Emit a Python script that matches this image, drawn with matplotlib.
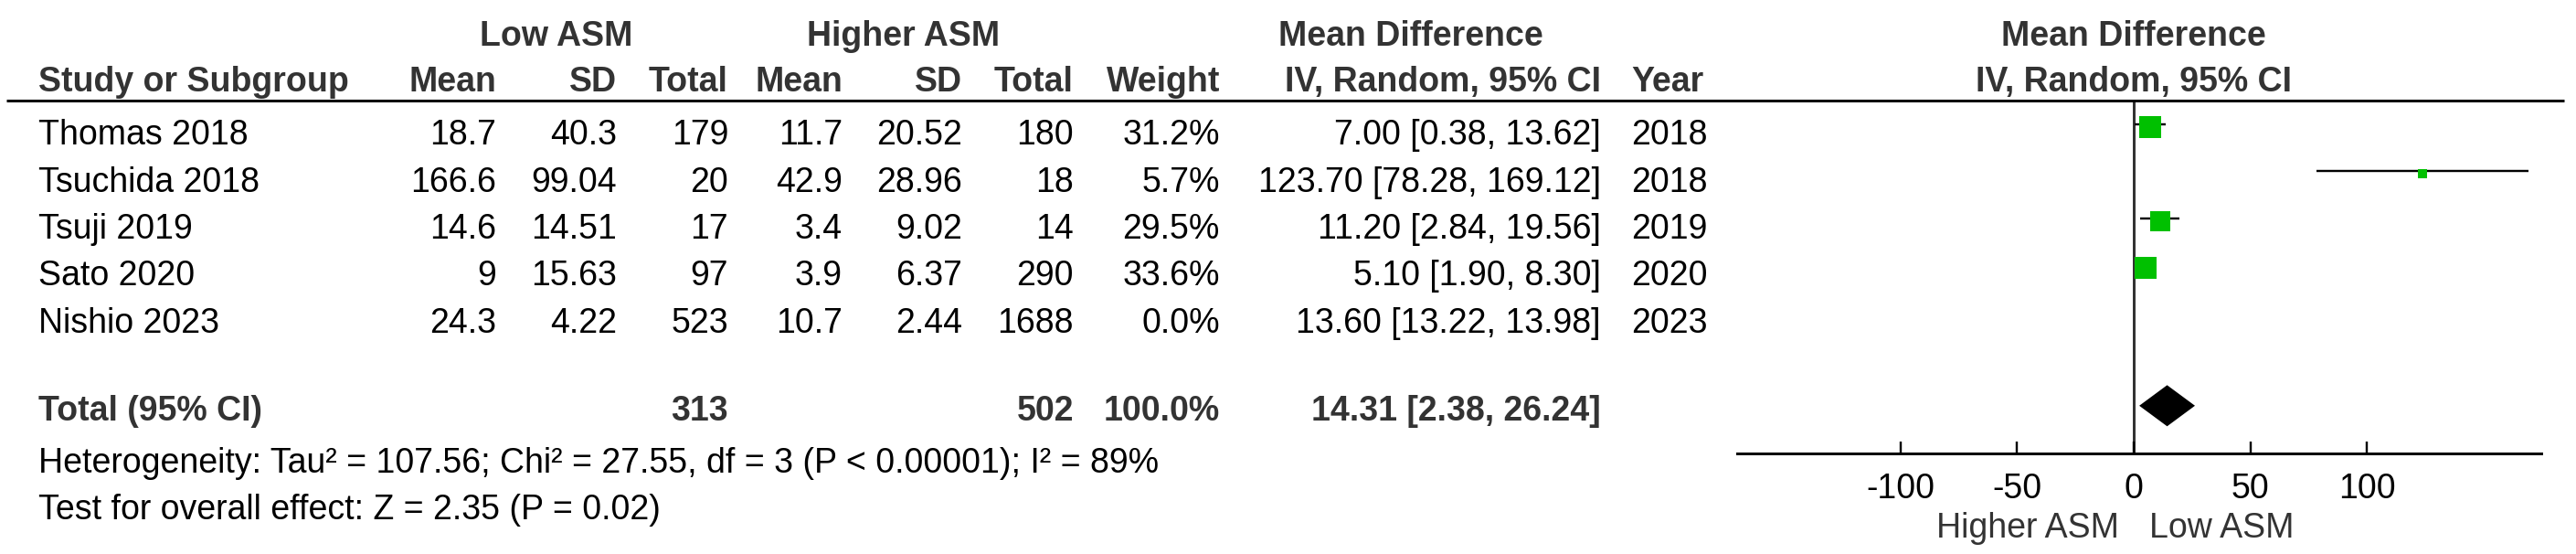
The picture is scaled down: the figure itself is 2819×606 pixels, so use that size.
import matplotlib
matplotlib.use("Agg")
import matplotlib.pyplot as plt
from matplotlib.patches import Polygon
import numpy as np

plt.rcParams['font.family'] = ['Liberation Sans', 'DejaVu Sans']
plt.rcParams['axes.unicode_minus'] = False

# ---------------- data ----------------
studies = ["Thomas 2018", "Tsuchida 2018", "Tsuji 2019", "Sato 2020", "Nishio 2023"]
low_mean = [18.7, 166.6, 14.6, 9, 24.3]
low_sd = [40.3, 99.04, 14.51, 15.63, 4.22]
low_n = [179, 20, 17, 97, 523]
high_mean = [11.7, 42.9, 3.4, 3.9, 10.7]
high_sd = [20.52, 28.96, 9.02, 6.37, 2.44]
high_n = [180, 18, 14, 290, 1688]
weight = [31.2, 5.7, 29.5, 33.6, 0.0]
md = [7.00, 123.70, 11.20, 5.10, 13.60]
ci_lo = [0.38, 78.28, 2.84, 1.90, 13.22]
ci_hi = [13.62, 169.12, 19.56, 8.30, 13.98]
years = [2018, 2018, 2019, 2020, 2023]

total_low_n = 313
total_high_n = 502
total_weight = 100.0
total_md = 14.31
total_lo = 2.38
total_hi = 26.24

heterogeneity = "Heterogeneity: Tau² = 107.56; Chi² = 27.55, df = 3 (P < 0.00001); I² = 89%"
overall = "Test for overall effect: Z = 2.35 (P = 0.02)"
xticks = [-100, -50, 0, 50, 100]
left_label = "Higher ASM"
right_label = "Low ASM"

# ---------------- layout ----------------
W, H = 2819, 606
DPI = 100
fig = plt.figure(figsize=(W / DPI, H / DPI), dpi=DPI)
fig.patch.set_facecolor('white')

FS = 27
GREY = '#333333'
PX = 72.0 / DPI  # points per pixel

ax_t = fig.add_axes([0, 0, 1, 1])
ax_t.set_xlim(0, W)
ax_t.set_ylim(H, 0)
ax_t.axis('off')

def txt(x, y, s, ha='right', bold=False, color='black'):
    ax_t.text(x, y, s, ha=ha, va='baseline', fontsize=FS,
              fontweight='bold' if bold else 'normal', color=color)

# column right edges
c_study = 42
c_lmean, c_lsd, c_ln = 543, 675, 797
c_hmean, c_hsd, c_hn = 922, 1053, 1175
c_w = 1335
c_ci = 1752
c_year = 1785
zero_px = 2335

# headers
txt(609, 50, "Low ASM", ha='center', bold=True, color=GREY)
txt(989, 50, "Higher ASM", ha='center', bold=True, color=GREY)
txt(1544, 50, "Mean Difference", ha='center', bold=True, color=GREY)
txt(zero_px, 50, "Mean Difference", ha='center', bold=True, color=GREY)

hy = 100
txt(c_study, hy, "Study or Subgroup", ha='left', bold=True, color=GREY)
txt(c_lmean, hy, "Mean", bold=True, color=GREY)
txt(c_lsd, hy, "SD", bold=True, color=GREY)
txt(c_ln, hy, "Total", bold=True, color=GREY)
txt(c_hmean, hy, "Mean", bold=True, color=GREY)
txt(c_hsd, hy, "SD", bold=True, color=GREY)
txt(c_hn, hy, "Total", bold=True, color=GREY)
txt(c_w, hy, "Weight", bold=True, color=GREY)
txt(c_ci, hy, "IV, Random, 95% CI", bold=True, color=GREY)
txt(c_year, hy, "Year", ha='left', bold=True, color=GREY)
txt(zero_px, hy, "IV, Random, 95% CI", ha='center', bold=True, color=GREY)

ax_t.plot([7, 2806], [110, 110], color='black', lw=3 * PX, solid_capstyle='butt')

# study rows
row0, rstep = 158, 51.5
for i, name in enumerate(studies):
    y = row0 + i * rstep
    txt(c_study, y, name, ha='left')
    txt(c_lmean, y, f"{low_mean[i]:g}")
    txt(c_lsd, y, f"{low_sd[i]:g}")
    txt(c_ln, y, f"{low_n[i]}")
    txt(c_hmean, y, f"{high_mean[i]:g}")
    txt(c_hsd, y, f"{high_sd[i]:g}")
    txt(c_hn, y, f"{high_n[i]}")
    txt(c_w, y, f"{weight[i]:.1f}%")
    txt(c_ci, y, f"{md[i]:.2f} [{ci_lo[i]:.2f}, {ci_hi[i]:.2f}]")
    txt(c_year, y, f"{years[i]}", ha='left')

ty = 460
txt(c_study, ty, "Total (95% CI)", ha='left', bold=True, color=GREY)
txt(c_ln, ty, f"{total_low_n}", bold=True, color=GREY)
txt(c_hn, ty, f"{total_high_n}", bold=True, color=GREY)
txt(c_w, ty, f"{total_weight:.1f}%", bold=True, color=GREY)
txt(c_ci, ty, f"{total_md:.2f} [{total_lo:.2f}, {total_hi:.2f}]", bold=True, color=GREY)

txt(c_study, 517, heterogeneity, ha='left')
txt(c_study, 568, overall, ha='left')

txt(zero_px - 16, 588, left_label, ha='right', color=GREY)
txt(zero_px + 17, 588, right_label, ha='left', color=GREY)

# ---------------- forest axes ----------------
scale = 2.554  # px per unit
ax_left_px, ax_right_px = 1901, 2781
ax_top_px, ax_bot_px = 112, 496
row_px0, row_step_px = 136, 51.3

ax = fig.add_axes([ax_left_px / W, 1 - ax_bot_px / H,
                   (ax_right_px - ax_left_px) / W, (ax_bot_px - ax_top_px) / H])
ax.patch.set_alpha(0)
ax.set_xlim((ax_left_px - zero_px) / scale, (ax_right_px - zero_px) / scale)
ax.set_ylim((ax_bot_px - row_px0) / row_step_px, (ax_top_px - row_px0) / row_step_px)

for s in ['left', 'top', 'right']:
    ax.spines[s].set_visible(False)
ax.spines['bottom'].set_linewidth(3 * PX)
ax.spines['bottom'].set_color('black')
ax.set_yticks([])
ax.set_xticks(xticks)
ax.set_xticklabels([str(t) for t in xticks])
ax.tick_params(axis='x', direction='in', length=13 * PX, width=2.4 * PX,
               pad=15, labelsize=FS, colors='black')

ax.axvline(0, color=GREY, lw=3 * PX, zorder=1)

ys = np.arange(len(studies))
for i in range(len(studies)):
    if weight[i] <= 0:
        continue
    ax.hlines(ys[i], ci_lo[i], ci_hi[i], color='black', lw=2.4 * PX, zorder=2)
    side_px = 4.14 * np.sqrt(weight[i])
    ax.scatter([md[i]], [ys[i] + 0.06], marker='s', s=(side_px * PX) ** 2,
               color='#00C000', linewidths=0, zorder=3)

total_row = len(studies) + 1
h = 22.5 / row_step_px
ax.add_patch(Polygon([(total_lo, total_row), (total_md, total_row - h),
                      (total_hi, total_row), (total_md, total_row + h)],
                     closed=True, facecolor='black', edgecolor='none', zorder=3))

fig.savefig("out.png", dpi=DPI, facecolor='white')
